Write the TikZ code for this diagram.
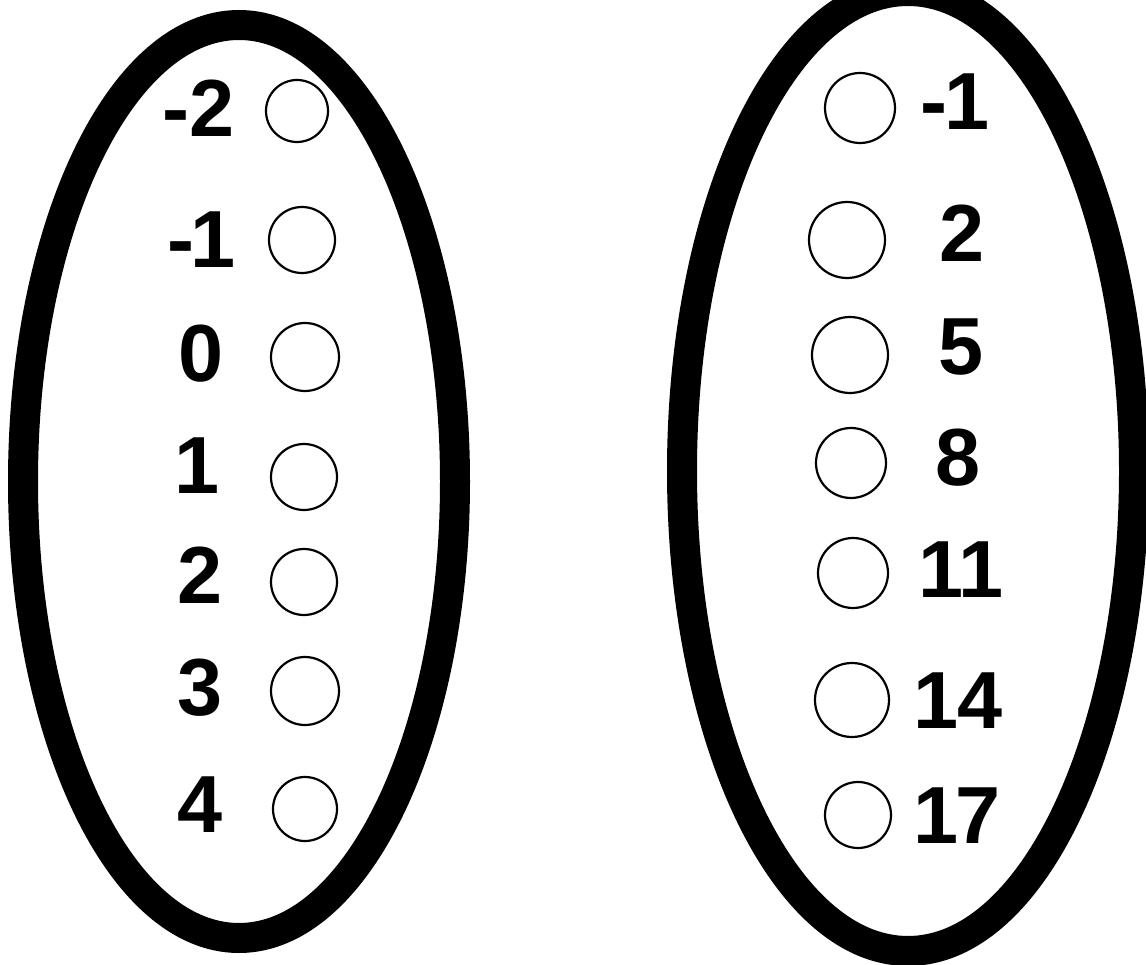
\documentclass[tikz,border=0pt]{standalone}
\usepackage{fontspec}
\setmainfont{Liberation Sans}
\begin{document}
\begin{tikzpicture}[x=1pt,y=-1pt,
  ring/.style={line width=30pt,black},
  dot/.style={circle,draw,line width=2.2pt,inner sep=0pt},
  num/.style={anchor=base,inner sep=0pt,font=\fontsize{81}{81}\selectfont\bfseries}]
\useasboundingbox (0,0) rectangle (1146,965);
\clip (0,0) rectangle (1146,965);
\draw[ring] (239,481.5) ellipse [x radius=216, y radius=456.5];
\draw[ring] (908,471) ellipse [x radius=226, y radius=480];
% left column
\node[dot,minimum size=62pt] (la) at (297,111) {};
\node[dot,minimum size=66pt] (lb) at (302,240) {};
\node[dot,minimum size=68pt] (lc) at (305,357) {};
\node[dot,minimum size=66pt] (ld) at (304,477) {};
\node[dot,minimum size=66pt] (le) at (304,582) {};
\node[dot,minimum size=68pt] (lf) at (305,691) {};
\node[dot,minimum size=64pt] (lg) at (305,809) {};
\node[num] (ta) at (199,137) {-2};
\node[num] (tb) at (202,268) {-\kern-4pt1};
\node[num] (tc) at (201,382) {0};
\node[num] (td) at (197,493) {1};
\node[num] (te) at (200,603) {2};
\node[num] (tf) at (200,715) {3};
\node[num] (tg) at (200,832) {4};
% right column
\node[dot,minimum size=70pt] (ra) at (860,108) {};
\node[dot,minimum size=76pt] (rb) at (847,240) {};
\node[dot,minimum size=76pt] (rc) at (850,355) {};
\node[dot,minimum size=70pt] (rd) at (851,463) {};
\node[dot,minimum size=70pt] (re) at (853,573) {};
\node[dot,minimum size=74pt] (rf) at (852,700) {};
\node[dot,minimum size=66pt] (rg) at (858,815) {};
\node[num] (sa) at (955,130) {-\kern-4pt1};
\node[num] (sb) at (962,262) {2};
\node[num] (sc) at (961,375) {5};
\node[num] (sd) at (958,485) {8};
\node[num] (se) at (961,597) {1\kern-5pt1};
\node[num] (sf) at (958,728) {1\kern-1.5pt4};
\node[num] (sg) at (957,843) {1\kern-3pt7};
\end{tikzpicture}
\end{document}
